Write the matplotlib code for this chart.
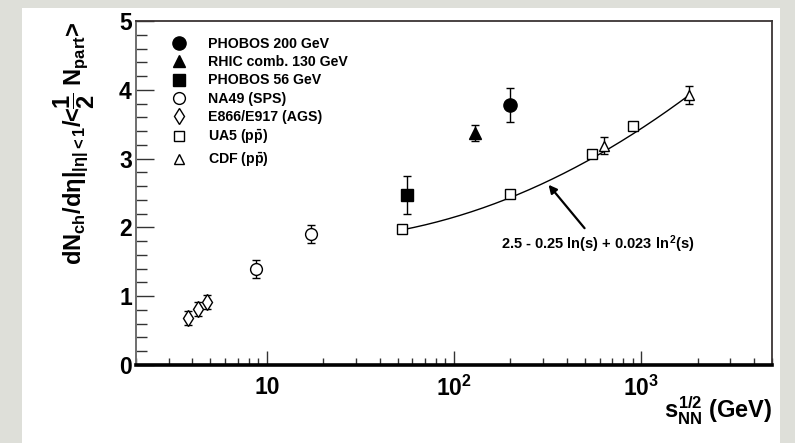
import numpy as np
import matplotlib
matplotlib.use("Agg")
import matplotlib.pyplot as plt
from matplotlib.lines import Line2D
from matplotlib.patches import Rectangle
from matplotlib.ticker import LogLocator, FixedLocator, FixedFormatter, MultipleLocator, NullFormatter

plt.rcParams['font.family'] = ['Liberation Sans', 'DejaVu Sans']
plt.rcParams['font.weight'] = 'bold'
plt.rcParams['axes.labelweight'] = 'bold'
plt.rcParams['mathtext.fontset'] = 'custom'
plt.rcParams['mathtext.rm'] = 'Liberation Sans:bold'
plt.rcParams['mathtext.it'] = 'Liberation Sans:bold'
plt.rcParams['mathtext.bf'] = 'Liberation Sans:bold'

# measurements: sqrt(s_NN) in GeV, dN/deta per participant pair, errors
phobos200_x = [200]
phobos200_y = [3.78]
phobos200_err = [0.25]

rhic130_x = [130]
rhic130_y = [3.37]
rhic130_err = [0.12]

phobos56_x = [56]
phobos56_y = [2.47]
phobos56_err = [0.27]

na49_x = [8.8, 17.3]
na49_y = [1.40, 1.90]
na49_err = [0.13, 0.13]

ags_x = [3.8, 4.3, 4.8]
ags_y = [0.68, 0.81, 0.92]
ags_err = [0.10, 0.10, 0.10]

ua5_x = [53, 200, 546, 900]
ua5_y = [1.97, 2.48, 3.06, 3.47]
ua5_err = [0.05, 0.05, 0.04, 0.04]

cdf_x = [630, 1800]
cdf_y = [3.19, 3.93]
cdf_err = [0.12, 0.13]

# pp / ppbar parametrisation: a + b ln(s) + c ln^2(s)
fit_a, fit_b, fit_c = 2.5, -0.25, 0.023
fit_range = (53, 1800)

series = [
    (phobos200_x, phobos200_y, phobos200_err, 'o', 'black', 9.5, 'PHOBOS 200 GeV'),
    (rhic130_x, rhic130_y, rhic130_err, '^', 'black', 8, 'RHIC comb. 130 GeV'),
    (phobos56_x, phobos56_y, phobos56_err, 's', 'black', 8, 'PHOBOS 56 GeV'),
    (na49_x, na49_y, na49_err, 'o', 'white', 8.5, 'NA49 (SPS)'),
    (ags_x, ags_y, ags_err, 'd', 'white', 8.5, 'E866/E917 (AGS)'),
    (ua5_x, ua5_y, ua5_err, 's', 'white', 6.5, r'UA5 (p$\bar{\rm p}$)'),
    (cdf_x, cdf_y, cdf_err, '^', 'white', 7.5, r'CDF (p$\bar{\rm p}$)'),
]

fig = plt.figure(figsize=(7.95, 4.43), dpi=100)
fig.patch.set_facecolor('#dedfd9')
fig.patches.append(Rectangle((22 / 795, 0), 758 / 795, 435 / 443,
                             transform=fig.transFigure, facecolor='white',
                             edgecolor='none', zorder=-10))

ax = fig.add_axes([136 / 795, 1 - 365 / 443, 636 / 795, 344 / 443])
ax.set_facecolor('white')

# fit curve
roots = np.geomspace(fit_range[0], fit_range[1], 200)
ln_s = np.log(roots ** 2)
ax.plot(roots, fit_a + fit_b * ln_s + fit_c * ln_s ** 2, color='black', lw=1.0, zorder=2)

handles = []
for x, y, err, mk, face, ms, label in series:
    ax.errorbar(x, y, yerr=err, fmt=mk, mfc=face, mec='black', mew=1.0, ms=ms,
                ecolor='black', elinewidth=1.0, capsize=3, capthick=1.0, zorder=3)
    handles.append(Line2D([], [], ls='none', marker=mk, mfc=face, mec='black',
                          mew=1.0, ms=ms, label=label))

leg = ax.legend(handles=handles, loc='upper left', bbox_to_anchor=(0.048, 0.97),
                frameon=False, fontsize=10.2, handlelength=1.0, handletextpad=1.5,
                labelspacing=0.3, borderaxespad=0)

ax.annotate(r'2.5 - 0.25 ln(s) + 0.023 ln$^{\,2}$(s)', xy=(320, 2.62), xytext=(585, 1.76),
            ha='center', va='center', fontsize=10.5,
            arrowprops=dict(arrowstyle='-|>', color='black', lw=1.6, mutation_scale=12,
                            shrinkA=2, shrinkB=0))

ax.set_xscale('log')
ax.set_xlim(2, 5000)
ax.set_ylim(0, 5)

ax.xaxis.set_major_locator(FixedLocator([10, 100, 1000]))
ax.xaxis.set_major_formatter(FixedFormatter(['10', r'$10^{2}$', r'$10^{3}$']))
ax.xaxis.set_minor_locator(LogLocator(base=10, subs=np.arange(2, 10), numticks=20))
ax.xaxis.set_minor_formatter(NullFormatter())
ax.yaxis.set_major_locator(MultipleLocator(1))
ax.yaxis.set_minor_locator(MultipleLocator(0.2))

ax.tick_params(axis='both', which='both', direction='in', top=False, right=False,
               labelsize=16.5, color='#333333')
ax.tick_params(axis='x', which='major', length=10, width=1.0, pad=8)
ax.tick_params(axis='x', which='minor', length=5, width=1.0)
ax.tick_params(axis='y', which='major', length=13, width=1.0, pad=3)
ax.tick_params(axis='y', which='minor', length=8, width=1.0)

ax.spines['bottom'].set_linewidth(2.6)
ax.spines['bottom'].set_color('black')
ax.spines['left'].set_linewidth(1.4)
ax.spines['left'].set_color('#6e6e6e')
for side in ('top', 'right'):
    ax.spines[side].set_linewidth(1.3)
    ax.spines[side].set_color('#3a3434')

ax.set_ylabel(r'dN$_{\rm ch}$/d$\eta$|$_{|\eta|<1}$/<$\dfrac{1}{2}$ N$_{\rm part}$>',
              loc='top', fontsize=17, labelpad=16)
ax.set_xlabel(r'$s^{1/2}_{NN}$ (GeV)', loc='right', fontsize=17, labelpad=-5)

fig.savefig('out.png', dpi=100, facecolor=fig.get_facecolor())
